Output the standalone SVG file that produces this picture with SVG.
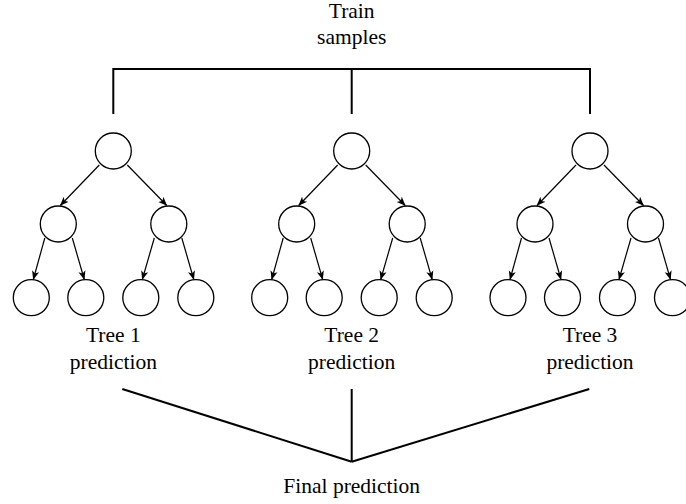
<svg xmlns="http://www.w3.org/2000/svg" width="686" height="504" viewBox="0 0 686 504">
<style>
  .node { fill: #ffffff; stroke: #000000; stroke-width: 1.3; }
  .edge { stroke: #000000; stroke-width: 1.2; fill: none; marker-end: url(#arrow); }
  .bar { stroke: #000000; stroke-width: 2; fill: none; stroke-linecap: butt; }
  .lbl { font-family: "Liberation Serif", "Times New Roman", serif; font-size: 21.5px; fill: #000000; text-anchor: middle; }
</style>
<defs>
  <marker id="arrow" viewBox="0 0 10 10" refX="9.5" refY="5" markerWidth="9" markerHeight="9" markerUnits="userSpaceOnUse" orient="auto">
    <path d="M0,1 L10,5 L0,9 L2.5,5 Z" fill="#000000"/>
  </marker>
</defs>
<rect width="686" height="504" fill="#ffffff"/>

<g id="connectors">
  <polyline class="bar" points="113.3,114 113.3,69 590,69 590,114"/>
  <line class="bar" x1="351.7" y1="69" x2="351.7" y2="114"/>
  <line class="bar" x1="122.3" y1="389" x2="351.7" y2="461.7"/>
  <line class="bar" x1="351.7" y1="389" x2="351.7" y2="461.7"/>
  <line class="bar" x1="589.3" y1="389" x2="351.7" y2="461.7"/>
  <g id="tree1-edges" transform="translate(113.3,0)">
    <line class="edge" x1="-14" y1="165" x2="-53" y2="205.5"/>
    <line class="edge" x1="14" y1="165" x2="53.5" y2="205.5"/>
    <line class="edge" x1="-68.5" y1="238" x2="-80" y2="279.5"/>
    <line class="edge" x1="-41" y1="238" x2="-29" y2="279.5"/>
    <line class="edge" x1="41" y1="238" x2="29" y2="279.5"/>
    <line class="edge" x1="68.5" y1="238" x2="80.5" y2="279.5"/>
  </g>
  <g id="tree2-edges" transform="translate(351.7,0)">
    <line class="edge" x1="-14" y1="165" x2="-53" y2="205.5"/>
    <line class="edge" x1="14" y1="165" x2="53.5" y2="205.5"/>
    <line class="edge" x1="-68.5" y1="238" x2="-80" y2="279.5"/>
    <line class="edge" x1="-41" y1="238" x2="-29" y2="279.5"/>
    <line class="edge" x1="41" y1="238" x2="29" y2="279.5"/>
    <line class="edge" x1="68.5" y1="238" x2="80.5" y2="279.5"/>
  </g>
  <g id="tree3-edges" transform="translate(590,0)">
    <line class="edge" x1="-14" y1="165" x2="-53" y2="205.5"/>
    <line class="edge" x1="14" y1="165" x2="53.5" y2="205.5"/>
    <line class="edge" x1="-68.5" y1="238" x2="-80" y2="279.5"/>
    <line class="edge" x1="-41" y1="238" x2="-29" y2="279.5"/>
    <line class="edge" x1="41" y1="238" x2="29" y2="279.5"/>
    <line class="edge" x1="68.5" y1="238" x2="80.5" y2="279.5"/>
  </g>
</g>

<g id="train-samples"><text class="lbl" x="351.7" y="17.5">Train</text><text class="lbl" x="351.7" y="43.5">samples</text></g>

<g id="tree1" transform="translate(113.3,0)">
  <g id="t1-root"><circle class="node" cx="0" cy="151" r="18"/></g>
  <g id="t1-l"><circle class="node" cx="-55" cy="224" r="18"/></g>
  <g id="t1-r"><circle class="node" cx="55.5" cy="224" r="18"/></g>
  <g id="t1-ll"><circle class="node" cx="-82" cy="297.7" r="18"/></g>
  <g id="t1-lr"><circle class="node" cx="-27.5" cy="297.7" r="18"/></g>
  <g id="t1-rl"><circle class="node" cx="27.5" cy="297.7" r="18"/></g>
  <g id="t1-rr"><circle class="node" cx="82.5" cy="297.7" r="18"/></g>
  <g id="t1-label"><text class="lbl" x="0" y="342">Tree 1</text><text class="lbl" x="0" y="369">prediction</text></g>
</g>
<g id="tree2" transform="translate(351.7,0)">
  <g id="t2-root"><circle class="node" cx="0" cy="151" r="18"/></g>
  <g id="t2-l"><circle class="node" cx="-55" cy="224" r="18"/></g>
  <g id="t2-r"><circle class="node" cx="55.5" cy="224" r="18"/></g>
  <g id="t2-ll"><circle class="node" cx="-82" cy="297.7" r="18"/></g>
  <g id="t2-lr"><circle class="node" cx="-27.5" cy="297.7" r="18"/></g>
  <g id="t2-rl"><circle class="node" cx="27.5" cy="297.7" r="18"/></g>
  <g id="t2-rr"><circle class="node" cx="82.5" cy="297.7" r="18"/></g>
  <g id="t2-label"><text class="lbl" x="0" y="342">Tree 2</text><text class="lbl" x="0" y="369">prediction</text></g>
</g>
<g id="tree3" transform="translate(590,0)">
  <g id="t3-root"><circle class="node" cx="0" cy="151" r="18"/></g>
  <g id="t3-l"><circle class="node" cx="-55" cy="224" r="18"/></g>
  <g id="t3-r"><circle class="node" cx="55.5" cy="224" r="18"/></g>
  <g id="t3-ll"><circle class="node" cx="-82" cy="297.7" r="18"/></g>
  <g id="t3-lr"><circle class="node" cx="-27.5" cy="297.7" r="18"/></g>
  <g id="t3-rl"><circle class="node" cx="27.5" cy="297.7" r="18"/></g>
  <g id="t3-rr"><circle class="node" cx="82.5" cy="297.7" r="18"/></g>
  <g id="t3-label"><text class="lbl" x="0" y="342">Tree 3</text><text class="lbl" x="0" y="369">prediction</text></g>
</g>

<g id="final"><text class="lbl" x="351.7" y="493">Final prediction</text></g>
</svg>
